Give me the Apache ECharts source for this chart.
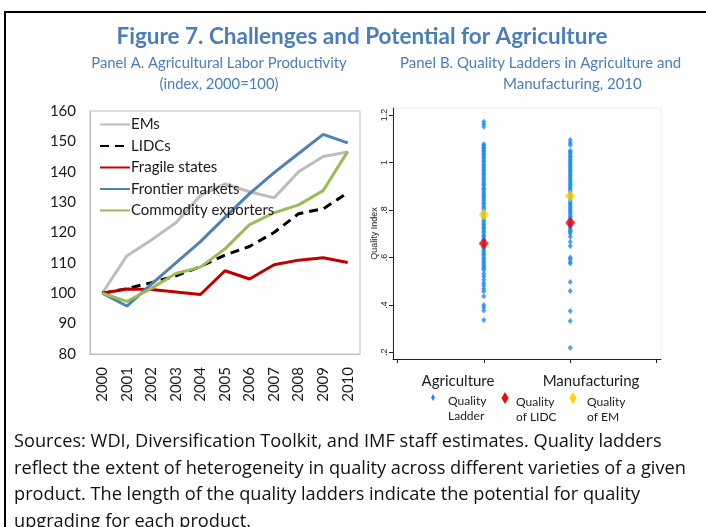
<!DOCTYPE html>
<html>
<head>
<meta charset="utf-8">
<script src="https://cdn.jsdelivr.net/npm/echarts@6/dist/echarts.min.js"></script>
<style>
  html, body { margin: 0; padding: 0; background: #fff; }
  #chart { width: 706px; height: 527px; }
</style>
</head>
<body>
<div id="chart"></div>
<script>
  // Panel A: agricultural labor productivity, index 2000=100
  const years = ['2000', '2001', '2002', '2003', '2004', '2005', '2006', '2007', '2008', '2009', '2010']
  const emsValues = [100, 112.3, 117.5, 123.2, 132.2, 136, 133.4, 131.4, 140, 145, 146.5]
  const lidcValues = [100, 101.5, 103.5, 105.7, 108.8, 112.6, 115.4, 120, 126.2, 127.8, 133.1]
  const fragileValues = [100, 101.4, 101.2, 100.4, 99.6, 107.4, 104.7, 109.4, 110.9, 111.7, 110.1]
  const frontierValues = [100, 95.8, 103, 110, 117, 125, 132.8, 139.7, 146, 152.3, 149.5]
  const commodityValues = [100, 97.3, 101.6, 106.5, 108.6, 114.6, 122.6, 126.5, 129.1, 133.8, 146.7]
  const yTicksA = [80, 90, 100, 110, 120, 130, 140, 150, 160]

  // Panel B: quality ladders, 2010
  const sectors = ['Agriculture', 'Manufacturing']
  const agriLadder = [
    1.172, 1.162, 1.151,
    1.077, 1.072, 1.064, 1.059, 1.051, 1.046, 1.038, 1.032, 1.023, 1.017, 1.008, 1.002,
    0.993, 0.987, 0.978, 0.97, 0.963, 0.954, 0.948, 0.939, 0.932, 0.925, 0.915, 0.909,
    0.902, 0.892, 0.886, 0.877, 0.87, 0.861, 0.855, 0.846, 0.839, 0.83, 0.824, 0.814,
    0.807, 0.799, 0.79, 0.783, 0.773, 0.767, 0.758, 0.751, 0.741, 0.736, 0.726, 0.72,
    0.71, 0.704, 0.694, 0.688, 0.678, 0.672, 0.663, 0.657, 0.647, 0.641, 0.632, 0.625,
    0.616, 0.61, 0.6, 0.594, 0.585, 0.578, 0.569, 0.562, 0.555, 0.547,
    0.531, 0.52, 0.506, 0.492, 0.482, 0.468, 0.458, 0.436,
    0.4, 0.39, 0.376, 0.336
  ]
  const manuLadder = [
    1.095, 1.083, 1.074,
    1.05, 1.043, 1.036, 1.028, 1.021, 1.013, 1.006, 0.998, 0.991, 0.983, 0.976, 0.968,
    0.961, 0.953, 0.946, 0.938, 0.931, 0.923, 0.916, 0.908, 0.901, 0.893, 0.886, 0.878,
    0.871, 0.863, 0.856, 0.848, 0.841, 0.833, 0.826, 0.818, 0.811, 0.803, 0.796, 0.788,
    0.781, 0.773, 0.766, 0.758, 0.751, 0.743, 0.736, 0.728, 0.721, 0.714,
    0.708, 0.701, 0.687, 0.666, 0.648,
    0.6, 0.592, 0.581, 0.575, 0.497, 0.459, 0.374, 0.332, 0.219
  ]
  const lidcQuality = [0.659, 0.746]
  const emQuality = [0.781, 0.859]
  const yTicksB = [0.2, 0.4, 0.6, 0.8, 1, 1.2]

  const blueTitle = '#4a7ebb'
  const txt = '#1a1a1a'
  const font = 'Lato, "Open Sans", sans-serif'
  const bodyFont = '"Open Sans", Lato, sans-serif'

  const myChart = echarts.init(document.getElementById('chart'), null, { renderer: 'canvas' })

  const option = {
    animation: false,
    textStyle: { fontFamily: font },
    legend: {
      orient: 'vertical',
      left: 94,
      top: 112,
      itemWidth: 30,
      itemHeight: 14,
      itemGap: 6.5,
      itemStyle: { opacity: 0 },
      textStyle: { fontSize: 15, color: txt, fontFamily: font, padding: [0, 0, 0, -4] },
      data: ['EMs', 'LIDCs', 'Fragile states', 'Frontier markets', 'Commodity exporters']
    },
    grid: [
      { left: 90, top: 111, width: 270, height: 243, show: true, borderColor: '#bfbfbf', borderWidth: 1, containLabel: false },
      { left: 393, top: 108, width: 268, height: 251, show: true, borderColor: '#eeeeee', borderWidth: 1, containLabel: false }
    ],
    xAxis: [
      {
        gridIndex: 0,
        type: 'category',
        data: years,
        boundaryGap: true,
        axisLine: { lineStyle: { color: '#bfbfbf', width: 1 } },
        axisTick: { inside: true, length: 5, lineStyle: { color: '#bfbfbf' } },
        axisLabel: { rotate: 90, margin: 13, fontSize: 15, color: txt, fontFamily: font }
      },
      {
        gridIndex: 1,
        type: 'value',
        min: -0.05,
        max: 3.05,
        splitLine: { show: false },
        axisLine: { onZero: false, lineStyle: { color: '#222', width: 1 } },
        axisTick: { show: true, length: 4, customValues: [0, 1, 2, 3], lineStyle: { color: '#222' } },
        axisLabel: { show: false }
      }
    ],
    yAxis: [
      {
        gridIndex: 0,
        type: 'value',
        min: 80,
        max: 160,
        interval: 10,
        splitLine: { show: false },
        axisLine: { show: true, lineStyle: { color: '#bfbfbf' } },
        axisTick: { show: false },
        axisLabel: { margin: 14, fontSize: 15, color: txt, fontFamily: font, customValues: yTicksA }
      },
      {
        gridIndex: 1,
        type: 'value',
        min: 0.172,
        max: 1.23,
        name: 'Quality Index',
        nameLocation: 'middle',
        nameRotate: 90,
        nameGap: 12,
        nameTextStyle: { fontSize: 9, color: '#222', fontFamily: '"Liberation Sans", Arial, sans-serif' },
        splitLine: { show: false },
        axisLine: { show: true, onZero: false, lineStyle: { color: '#222', width: 1 } },
        axisTick: { show: true, length: 4, customValues: yTicksB, lineStyle: { color: '#222' } },
        axisLabel: {
          rotate: 90,
          margin: 4,
          fontSize: 9,
          color: '#222',
          fontFamily: '"Liberation Sans", Arial, sans-serif',
          customValues: yTicksB,
          formatter: v => {
            const s = String(Math.round(v * 10) / 10)
            return s.startsWith('0') ? s.slice(1) : s
          }
        }
      }
    ],
    series: [
      {
        name: 'EMs', type: 'line', xAxisIndex: 0, yAxisIndex: 0, data: emsValues,
        symbol: 'none', color: '#bdbdbd', lineStyle: { width: 3, color: '#bdbdbd' }
      },
      {
        name: 'LIDCs', type: 'line', xAxisIndex: 0, yAxisIndex: 0, data: lidcValues,
        symbol: 'none', color: '#000', lineStyle: { width: 3, color: '#000', type: [9, 6] }
      },
      {
        name: 'Fragile states', type: 'line', xAxisIndex: 0, yAxisIndex: 0, data: fragileValues,
        symbol: 'none', color: '#c00000', lineStyle: { width: 3, color: '#c00000' }
      },
      {
        name: 'Frontier markets', type: 'line', xAxisIndex: 0, yAxisIndex: 0, data: frontierValues,
        symbol: 'none', color: '#4f81b4', lineStyle: { width: 3, color: '#4f81b4' }
      },
      {
        name: 'Commodity exporters', type: 'line', xAxisIndex: 0, yAxisIndex: 0, data: commodityValues,
        symbol: 'none', color: '#9bbb59', lineStyle: { width: 3, color: '#9bbb59' }
      },
      {
        name: 'Quality Ladder', type: 'scatter', xAxisIndex: 1, yAxisIndex: 1,
        symbol: 'diamond', symbolSize: [5, 6],
        itemStyle: { color: '#1a8cff' },
        data: agriLadder.map(v => [1, v]).concat(manuLadder.map(v => [2, v]))
      },
      {
        name: 'Quality of EM', type: 'scatter', xAxisIndex: 1, yAxisIndex: 1,
        symbol: 'diamond', symbolSize: [10, 12],
        itemStyle: { color: '#ffd200' },
        data: sectors.map((s, i) => [i + 1, emQuality[i]])
      },
      {
        name: 'Quality of LIDC', type: 'scatter', xAxisIndex: 1, yAxisIndex: 1,
        symbol: 'diamond', symbolSize: [10, 12],
        itemStyle: { color: '#ff0000' },
        data: sectors.map((s, i) => [i + 1, lidcQuality[i]])
      }
    ],
    graphic: [
      // cut-off heading above the box
      { type: 'text', left: 52, top: -25, style: { text: 'Productive Capacity', fontSize: 24, fontWeight: 'bold', fill: '#000', fontFamily: font } },
      // frame
      { type: 'rect', shape: { x: 5, y: 12, width: 720, height: 540 }, style: { fill: 'none', stroke: '#000', lineWidth: 2 } },
      // titles
      { type: 'text', x: 362, y: 37, style: { text: 'Figure 7. Challenges and Potential for Agriculture', fontSize: 22.5, fontWeight: 'bold', fill: blueTitle, fontFamily: font, align: 'center', verticalAlign: 'middle' } },
      { type: 'text', x: 219, y: 63, style: { text: 'Panel A. Agricultural Labor Productivity', fontSize: 14.8, fill: blueTitle, fontFamily: font, align: 'center', verticalAlign: 'middle' } },
      { type: 'text', x: 219, y: 84, style: { text: '(index, 2000=100)', fontSize: 14.8, fill: blueTitle, fontFamily: font, align: 'center', verticalAlign: 'middle' } },
      { type: 'text', x: 400, y: 63, style: { text: 'Panel B. Quality Ladders in Agriculture and', fontSize: 15, fill: blueTitle, fontFamily: font, align: 'left', verticalAlign: 'middle' } },
      { type: 'text', x: 503, y: 84, style: { text: 'Manufacturing, 2010', fontSize: 15, fill: blueTitle, fontFamily: font, align: 'left', verticalAlign: 'middle' } },
      // panel B category names
      { type: 'text', x: 458, y: 381, style: { text: sectors[0], fontSize: 15, fill: txt, fontFamily: font, align: 'center', verticalAlign: 'middle' } },
      { type: 'text', x: 591, y: 381, style: { text: sectors[1], fontSize: 15, fill: txt, fontFamily: font, align: 'center', verticalAlign: 'middle' } },
      // panel B legend
      { type: 'polygon', shape: { points: [[433, 394], [435, 397.5], [433, 401], [431, 397.5]] }, style: { fill: '#1a8cff' } },
      { type: 'text', x: 448, y: 394, style: { text: 'Quality\nLadder', fontSize: 12, lineHeight: 15, fill: txt, fontFamily: font } },
      { type: 'polygon', shape: { points: [[505, 392], [508.5, 398], [505, 404], [501.5, 398]] }, style: { fill: '#ff0000' } },
      { type: 'text', x: 516, y: 395, style: { text: 'Quality\nof LIDC', fontSize: 12, lineHeight: 15, fill: txt, fontFamily: font } },
      { type: 'polygon', shape: { points: [[573, 392], [576.5, 398], [573, 404], [569.5, 398]] }, style: { fill: '#ffd200' } },
      { type: 'text', x: 587, y: 395, style: { text: 'Quality\nof EM', fontSize: 12, lineHeight: 15, fill: txt, fontFamily: font } },
      // footnote
      {
        type: 'text', x: 14, y: 429,
        style: {
          text: 'Sources: WDI, Diversification Toolkit, and IMF staff estimates. Quality ladders\n' +
            'reflect the extent of heterogeneity in quality across different varieties of a given\n' +
            'product. The length of the quality ladders indicate the potential for quality\n' +
            'upgrading for each product.',
          fontSize: 18.2, lineHeight: 26.5, fill: '#111', fontFamily: bodyFont
        }
      }
    ]
  }

  myChart.setOption(option)
</script>
</body>
</html>
